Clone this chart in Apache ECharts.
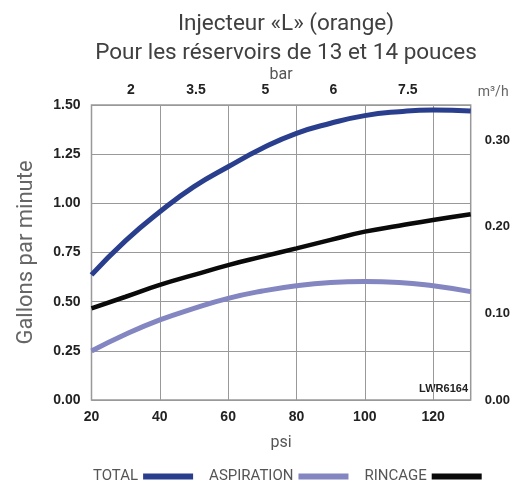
<!DOCTYPE html>
<html>
<head>
<meta charset="utf-8">
<script src="https://cdn.jsdelivr.net/npm/echarts@6/dist/echarts.min.js"></script>
<style>
  html, body { margin: 0; padding: 0; background: #fff; }
  #chart { width: 515px; height: 482px; }
</style>
</head>
<body>
<div id="chart"></div>
<script>
// pression (psi) et débits (gallons par minute)
const psi = [20, 30, 40, 50, 60, 70, 80, 90, 100, 110, 120, 131];
const total = [0.636, 0.81, 0.957, 1.085, 1.186, 1.28, 1.356, 1.407, 1.446, 1.466, 1.475, 1.47];
const aspiration = [0.249, 0.334, 0.407, 0.466, 0.517, 0.554, 0.581, 0.597, 0.602, 0.598, 0.581, 0.551];
const rincage = [0.466, 0.525, 0.585, 0.636, 0.686, 0.729, 0.771, 0.814, 0.856, 0.886, 0.915, 0.944];

// axe du haut (bar) : étiquettes et leur position en psi
const barLabels = ["2", "3.5", "5", "6", "7.5"];
const barAt = [31.5, 50.6, 70.9, 90.8, 112.6];

const gpmToM3h = 0.2271;
const yMax = 1.5;

function pairs(vals) {
  return psi.map((p, i) => [p, vals[i]]);
}

const labelFont = { fontFamily: "Liberation Sans, Arial, sans-serif", fontWeight: "bold", color: "#222" };
const dinFont = "Roboto, sans-serif";

let chart = echarts.init(document.getElementById("chart"));
chart.setOption({
  animation: false,
  title: {
    text: "Injecteur «L» (orange)\nPour les réservoirs de 13 et 14 pouces",
    left: 281,
    textAlign: "center",
    top: 5,
    textStyle: { fontFamily: dinFont, fontSize: 22.5, fontWeight: "normal", color: "#404040", lineHeight: 29 }
  },
  grid: {
    left: 91.5, right: 44.3, top: 105, bottom: 82,
    outerBoundsMode: "none",
    show: true, borderColor: "#999", borderWidth: 1.5
  },
  legend: {
    data: ["TOTAL", "ASPIRATION", "RINCAGE"],
    left: 88,
    top: 464,
    align: "right",
    icon: "rect",
    itemWidth: 50,
    itemHeight: 6,
    itemGap: 16,
    textStyle: { fontFamily: dinFont, fontSize: 15, color: "#555", letterSpacing: 0.9 }
  },
  xAxis: [
    {
      type: "value", position: "bottom",
      min: 20, max: 131, interval: 20,
      name: "psi", nameLocation: "middle", nameGap: 35, nameMoveOverlap: false,
      nameTextStyle: { fontFamily: dinFont, fontSize: 16, color: "#555" },
      axisLine: { show: false }, axisTick: { show: false },
      axisLabel: Object.assign({ fontSize: 14, margin: 10, showMaxLabel: false }, labelFont),
      splitLine: { lineStyle: { color: "#999", width: 1 } }
    },
    {
      type: "value", position: "top",
      min: 20, max: 131,
      name: "bar", nameLocation: "middle", nameGap: 22, nameMoveOverlap: false,
      nameTextStyle: { fontFamily: dinFont, fontSize: 16, color: "#555" },
      axisLine: { show: false }, axisTick: { show: false },
      axisLabel: Object.assign({
        fontSize: 14, margin: 8,
        customValues: barAt,
        formatter: v => barLabels[barAt.indexOf(v)]
      }, labelFont),
      splitLine: { show: false }
    }
  ],
  yAxis: [
    {
      type: "value", position: "left",
      min: 0, max: yMax, interval: 0.25,
      name: "Gallons par minute", nameLocation: "middle", nameGap: 54, nameRotate: 90, nameMoveOverlap: false,
      nameTextStyle: { fontFamily: dinFont, fontSize: 22, color: "#666" },
      axisLine: { show: false }, axisTick: { show: false },
      axisLabel: Object.assign({ fontSize: 14, margin: 11, formatter: v => v.toFixed(2) }, labelFont),
      splitLine: { lineStyle: { color: "#999", width: 1 } }
    },
    {
      type: "value", position: "right",
      min: 0, max: yMax * gpmToM3h, interval: 0.1,
      name: "m³/h", nameLocation: "end", nameGap: 6,
      nameTextStyle: { fontFamily: dinFont, fontSize: 14, color: "#666", align: "left", padding: [0, 0, 0, 7] },
      axisLine: { show: false }, axisTick: { show: false },
      axisLabel: Object.assign({ fontSize: 13, margin: 14, showMaxLabel: false, formatter: v => v.toFixed(2) }, labelFont),
      splitLine: { show: false }
    }
  ],
  graphic: [
    {
      type: "text", right: 47, top: 383,
      style: { text: "LWR6164", fontFamily: "Liberation Sans, Arial, sans-serif", fontWeight: "bold", fontSize: 11, fill: "#222" }
    }
  ],
  series: [
    {
      name: "TOTAL", type: "line", smooth: true, symbol: "none",
      data: pairs(total),
      lineStyle: { color: "#2a3e8e", width: 5 }, itemStyle: { color: "#2a3e8e" }
    },
    {
      name: "ASPIRATION", type: "line", smooth: true, symbol: "none",
      data: pairs(aspiration),
      lineStyle: { color: "#8386c0", width: 5 }, itemStyle: { color: "#8386c0" }
    },
    {
      name: "RINCAGE", type: "line", smooth: true, symbol: "none",
      data: pairs(rincage),
      lineStyle: { color: "#0a0a0a", width: 4.5 }, itemStyle: { color: "#0a0a0a" }
    }
  ]
});
</script>
</body>
</html>
